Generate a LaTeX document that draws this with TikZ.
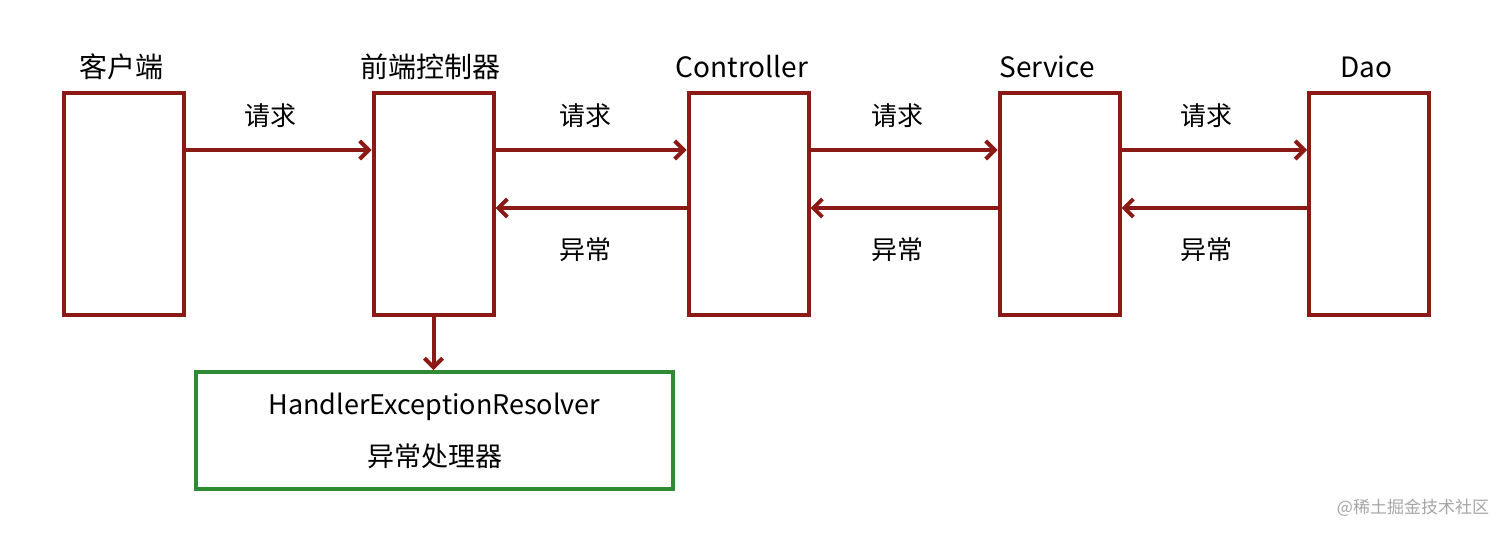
\documentclass[tikz,border=0pt]{standalone}
\usepackage{fontspec}
\setmainfont{Noto Sans CJK SC}
\usetikzlibrary{arrows.meta}
\definecolor{dred}{HTML}{8B1A16}
\definecolor{dgreen}{HTML}{2E8B34}
\begin{document}
\begin{tikzpicture}[x=1pt,y=-1pt,
  box/.style={draw=dred,line width=4pt,minimum width=120pt,minimum height=222pt,inner sep=0pt},
  arr/.style={draw=dred,line width=4pt,-{Straight Barb[length=9pt,width=18pt]}},
  lbl/.style={font=\fontsize{26}{30}\selectfont},
  ttl/.style={font=\fontsize{28}{32}\selectfont}]
\useasboundingbox[fill=white] (0,0) rectangle (1512,536);
\node[box] (k) at (123.5,204) {};
\node[box] (q) at (433.5,204) {};
\node[box] (c) at (748.5,204) {};
\node[box] (s) at (1059.5,204) {};
\node[box] (d) at (1369,204) {};
\node[ttl] (kt) at (121,67) {客户端};
\node[ttl] (qt) at (430,67) {前端控制器};
\node[ttl] (ct) at (742,67) {Controller};
\node[ttl] (st) at (1047,67) {Service};
\node[ttl] (dt) at (1366,67) {Dao};
\node[draw=dgreen,line width=4pt,minimum width=477pt,minimum height=117pt,align=center,font=\fontsize{27}{52}\selectfont] (h) at (434.5,430.5) {HandlerExceptionResolver\\异常处理器};
\draw[arr] (k.east|-0,150) -- (q.west|-0,150);
\draw[arr] (q.east|-0,150) -- (c.west|-0,150);
\draw[arr] (c.east|-0,150) -- (s.west|-0,150);
\draw[arr] (s.east|-0,150) -- (d.west|-0,150);
\draw[arr] (c.west|-0,208) -- (q.east|-0,208);
\draw[arr] (s.west|-0,208) -- (c.east|-0,208);
\draw[arr] (d.west|-0,208) -- (s.east|-0,208);
\draw[arr] (q.south) -- (q.south|-h.north);
\node[lbl] (l1) at (270,116) {请求};
\node[lbl] (l2) at (585,116) {请求};
\node[lbl] (l3) at (897,116) {请求};
\node[lbl] (l4) at (1206,116) {请求};
\node[lbl] (e2) at (585,250) {异常};
\node[lbl] (e3) at (897,250) {异常};
\node[lbl] (e4) at (1206,250) {异常};
\node[font=\fontsize{17}{20}\selectfont,text=gray!70] (w) at (1413,508) {@稀土掘金技术社区};
\end{tikzpicture}
\end{document}
